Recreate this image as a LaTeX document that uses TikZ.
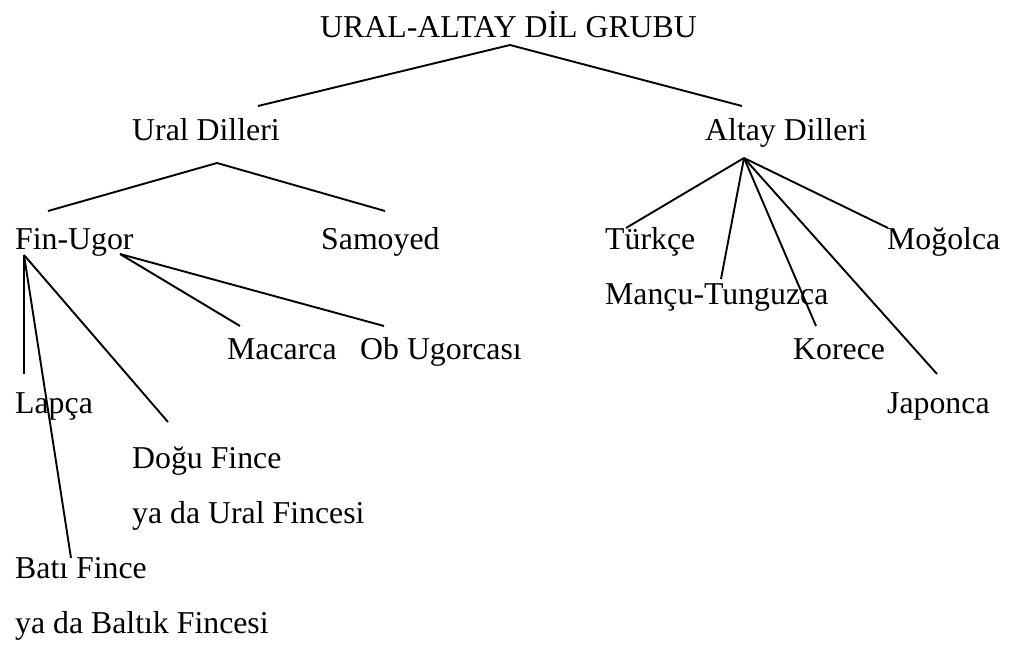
\documentclass[tikz,border=0pt]{standalone}
\usepackage{fontspec}
\setmainfont{Liberation Serif}
\newfontfamily\tnrfont{Liberation Serif}
\begin{document}
\begin{tikzpicture}[x=1pt,y=-1pt,
  lbl/.style={anchor=base west, inner sep=0pt, font=\tnrfont\fontsize{31.8}{38}\selectfont},
  conn/.style={line width=1.9pt}]
\useasboundingbox (0,0) rectangle (1010,648);
% texts
\node[lbl] (title) at (320,37) {URAL-ALTAY DİL GRUBU};
\node[lbl] (ural) at (132,140) {Ural Dilleri};
\node[lbl] (altay) at (705,140) {Altay Dilleri};
\node[lbl] (finugor) at (15,249) {Fin-Ugor};
\node[lbl] (samoyed) at (321,249) {Samoyed};
\node[lbl] (turkce) at (605,249) {Türkçe};
\node[lbl] (mogolca) at (887,249) {Moğolca};
\node[lbl] (mancu) at (605,304) {Mançu-Tunguzca};
\node[lbl] (macarca) at (227,359) {Macarca};
\node[lbl] (ob) at (360,359) {Ob Ugorcası};
\node[lbl] (korece) at (793,359) {Korece};
\node[lbl] (lapca) at (15,413) {Lapça};
\node[lbl] (japonca) at (887,413) {Japonca};
\node[lbl] (dogu) at (132,468) {Doğu Fince};
\node[lbl] (dogub) at (132,523) {ya da Ural Fincesi};
\node[lbl] (bati) at (15,578) {Batı Fince};
\node[lbl] (batib) at (15,633) {ya da Baltık Fincesi};
% connector end points
\coordinate (top) at (510,45);
\coordinate (uralT) at (258,106);
\coordinate (altayT) at (742,106);
\coordinate (uralB) at (217,163);
\coordinate (finugorT) at (48,211);
\coordinate (samoyedT) at (385,211);
\coordinate (fuA) at (24,255);
\coordinate (fuB) at (120,254);
\coordinate (lapcaT) at (24,374);
\coordinate (batiT) at (71,558);
\coordinate (doguT) at (168,422);
\coordinate (macarcaT) at (240,326);
\coordinate (obT) at (384,326);
\coordinate (altayB) at (744,158);
\coordinate (turkceT) at (626,228);
\coordinate (mancuT) at (721,279);
\coordinate (koreceT) at (816,326);
\coordinate (japoncaT) at (937,374);
\coordinate (mogolcaT) at (888,228);
% connectors
\draw[conn] (uralT) -- (top) -- (altayT);
\draw[conn] (finugorT) -- (uralB) -- (samoyedT);
\draw[conn] (fuA) -- (lapcaT);
\draw[conn] (fuA) -- (batiT);
\draw[conn] (fuA) -- (doguT);
\draw[conn] (fuB) -- (macarcaT);
\draw[conn] (fuB) -- (obT);
\draw[conn] (altayB) -- (turkceT);
\draw[conn] (altayB) -- (mancuT);
\draw[conn] (altayB) -- (koreceT);
\draw[conn] (altayB) -- (japoncaT);
\draw[conn] (altayB) -- (mogolcaT);
\end{tikzpicture}
\end{document}
